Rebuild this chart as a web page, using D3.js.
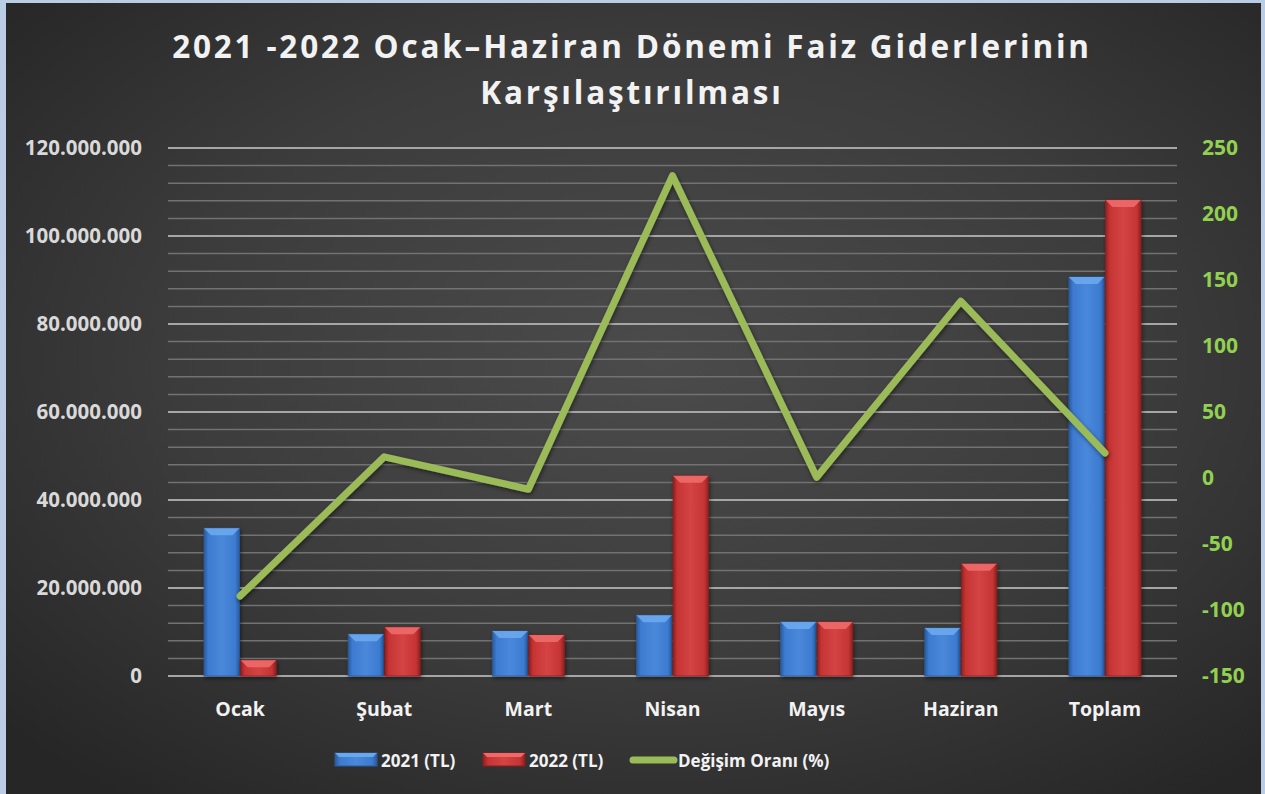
<!DOCTYPE html>
<html>
<head>
<meta charset="utf-8">
<script src="https://cdn.jsdelivr.net/npm/d3@7"></script>
<style>
  html, body { margin: 0; padding: 0; background: #b9cde4; }
  svg { display: block; }
</style>
</head>
<body>
<div id="chart"></div>
<script>
"use strict"

// chart data
const categories = ["Ocak", "Şubat", "Mart", "Nisan", "Mayıs", "Haziran", "Toplam"];
const values2021 = [33.6e6, 9.5e6, 10.2e6, 13.8e6, 12.3e6, 10.9e6, 90.7e6];
const values2022 = [3.6e6, 11.1e6, 9.3e6, 45.5e6, 12.3e6, 25.5e6, 108.2e6];
const changeRate = [-89.4, 16, -8.5, 229, 0.5, 134, 19];
const leftTicks = [0, 20e6, 40e6, 60e6, 80e6, 100e6, 120e6];
const rightTicks = [-150, -100, -50, 0, 50, 100, 150, 200, 250];
const seriesNames = ["2021 (TL)", "2022 (TL)", "Değişim Oranı (%)"];
const titleLines = ["2021 -2022 Ocak\u2013Haziran Dönemi Faiz Giderlerinin", "Karşılaştırılması"];

const W = 1265, H = 794;
const margin = {left: 168, right: 88, top: 148, bottom: 118};
const font = "'Open Sans', 'DejaVu Sans', sans-serif";

const svg = d3.select("#chart").append("svg")
  .attr("width", W).attr("height", H);

const defs = svg.append("defs");

// background radial gradient
const bg = defs.append("radialGradient").attr("id", "bg")
  .attr("cx", "0.52").attr("cy", "0.45").attr("r", "0.7");
bg.append("stop").attr("offset", "0%").attr("stop-color", "#4b4b4b");
bg.append("stop").attr("offset", "55%").attr("stop-color", "#3c3c3c");
bg.append("stop").attr("offset", "100%").attr("stop-color", "#262626");

function barGradient(id, dark, mid, light) {
  const g = defs.append("linearGradient").attr("id", id)
    .attr("x1", "0").attr("x2", "1").attr("y1", "0").attr("y2", "0");
  g.append("stop").attr("offset", "0%").attr("stop-color", dark);
  g.append("stop").attr("offset", "12%").attr("stop-color", mid);
  g.append("stop").attr("offset", "50%").attr("stop-color", light);
  g.append("stop").attr("offset", "88%").attr("stop-color", mid);
  g.append("stop").attr("offset", "100%").attr("stop-color", dark);
}
barGradient("blueBar", "#2a5a9e", "#3d7bd0", "#4a88da");
barGradient("redBar", "#8e2020", "#c63434", "#d44444");

const shadow = defs.append("filter").attr("id", "shadow")
  .attr("x", "-20%").attr("y", "-20%").attr("width", "140%").attr("height", "140%");
shadow.append("feDropShadow").attr("dx", 1).attr("dy", 2).attr("stdDeviation", 2)
  .attr("flood-color", "#000").attr("flood-opacity", 0.5);

svg.append("rect")
  .attr("x", 6).attr("y", 3).attr("width", W - 10).attr("height", H - 3)
  .attr("fill", "url(#bg)");

// scales
const x = d3.scaleBand().domain(categories)
  .range([margin.left, W - margin.right]).paddingInner(0.5).paddingOuter(0.25);
const y = d3.scaleLinear().domain([0, 120e6]).range([H - margin.bottom, margin.top]);
const y2 = d3.scaleLinear().domain([-150, 250]).range([H - margin.bottom, margin.top]);

// grid
const minorTicks = d3.range(0, 120e6 + 1, 4e6);
svg.append("g").selectAll("line")
  .data(minorTicks)
  .join("line")
    .attr("x1", margin.left).attr("x2", W - margin.right)
    .attr("y1", d => y(d)).attr("y2", d => y(d))
    .attr("stroke", d => d % 20e6 === 0 ? "#a6a6a6" : "#727272")
    .attr("stroke-width", d => d % 20e6 === 0 ? 2 : 1.5);

// left axis
const fmt = v => d3.format(",")(v).replace(/,/g, ".");
svg.append("g")
  .attr("transform", `translate(${margin.left - 23},0)`)
  .call(d3.axisLeft(y).tickValues(leftTicks).tickFormat(fmt).tickSize(0))
  .call(g => g.select(".domain").remove())
  .call(g => g.selectAll("text")
    .attr("fill", "#d9d9d9").attr("font-family", font)
    .attr("font-size", 20.5).attr("font-weight", "bold"));

// right axis (plain hyphen for negatives)
svg.append("g")
  .attr("transform", `translate(${W - margin.right + 22},0)`)
  .call(d3.axisRight(y2).tickValues(rightTicks).tickFormat(d => String(d)).tickSize(0))
  .call(g => g.select(".domain").remove())
  .call(g => g.selectAll("text")
    .attr("fill", "#92d050").attr("font-family", font)
    .attr("font-size", 21).attr("font-weight", "bold"));

// category axis
svg.append("g")
  .attr("transform", `translate(0,${H - margin.bottom + 20})`)
  .call(d3.axisBottom(x).tickSize(0))
  .call(g => g.select(".domain").remove())
  .call(g => g.selectAll("text")
    .attr("fill", "#f2f2f2").attr("font-family", font)
    .attr("font-size", 19.5).attr("font-weight", "bold").attr("dy", "0.88em"));

// bars
const inner = d3.scaleBand().domain([0, 1]).range([0, x.bandwidth()]).paddingInner(0.03);
const series = [
  {vals: values2021, fill: "url(#blueBar)", bevel: "#6aa8ee", edge: "#2c5a98"},
  {vals: values2022, fill: "url(#redBar)", bevel: "#ee6a6a", edge: "#8a1e1e"}
];

series.forEach((s, si) => {
  const g = svg.append("g").attr("filter", "url(#shadow)");
  const rows = categories.map((c, i) => ({c, v: s.vals[i]}));
  g.selectAll("rect")
    .data(rows)
    .join("rect")
      .attr("x", d => x(d.c) + inner(si))
      .attr("y", d => y(d.v))
      .attr("width", inner.bandwidth())
      .attr("height", d => y(0) - y(d.v))
      .attr("fill", s.fill)
      .attr("stroke", s.edge).attr("stroke-width", 0.8);
  const b = 7;
  g.selectAll("polygon")
    .data(rows)
    .join("polygon")
      .attr("points", d => {
        const x0 = x(d.c) + inner(si), x1 = x0 + inner.bandwidth(), t = y(d.v);
        return [[x0, t], [x1, t], [x1 - b, t + b], [x0 + b, t + b]].join(" ");
      })
      .attr("fill", s.bevel).attr("opacity", 0.9);
});

// change-rate line
const linePts = categories.map((c, i) => [x(c) + x.bandwidth() / 2, y2(changeRate[i])]);
svg.append("path")
  .datum(linePts)
  .attr("d", d3.line())
  .attr("fill", "none")
  .attr("stroke", "#9bbb59")
  .attr("stroke-width", 7)
  .attr("stroke-linejoin", "round")
  .attr("stroke-linecap", "round")
  .attr("filter", "url(#shadow)");

// title
svg.append("text")
  .attr("x", 632).attr("text-anchor", "middle")
  .attr("font-family", font).attr("font-size", 31.5).attr("font-weight", "bold")
  .attr("letter-spacing", 2.8).attr("fill", "#f2f2f2")
  .selectAll("tspan")
  .data(titleLines)
  .join("tspan")
    .attr("x", 632)
    .attr("y", (d, i) => 58 + i * 46)
    .text(d => d);

// legend
const legend = svg.append("g").attr("font-family", font)
  .attr("font-size", 17).attr("font-weight", "bold").attr("fill", "#f2f2f2");
const legendX = [335, 483, 630];
[0, 1].forEach(i => {
  legend.append("rect")
    .attr("x", legendX[i]).attr("y", 753).attr("width", 42).attr("height", 13)
    .attr("fill", series[i].fill).attr("stroke", series[i].edge);
  legend.append("polygon")
    .attr("points", [[legendX[i], 753], [legendX[i] + 42, 753], [legendX[i] + 38, 757], [legendX[i] + 4, 757]].join(" "))
    .attr("fill", series[i].bevel);
});
legend.append("line")
  .attr("x1", legendX[2] + 3).attr("x2", legendX[2] + 44)
  .attr("y1", 760).attr("y2", 760)
  .attr("stroke", "#9bbb59").attr("stroke-width", 7).attr("stroke-linecap", "round");
legend.selectAll("text.lbl")
  .data(seriesNames)
  .join("text")
    .attr("class", "lbl")
    .attr("x", (d, i) => legendX[i] + (i === 2 ? 48 : 46))
    .attr("y", 767)
    .text(d => d);
</script>
</body>
</html>
